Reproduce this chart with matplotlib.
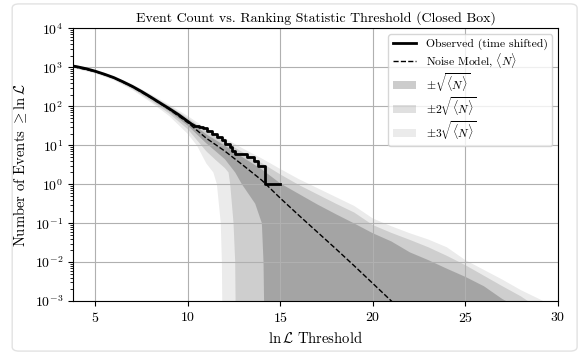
import matplotlib
matplotlib.use("Agg")
import matplotlib.pyplot as plt
from matplotlib.patches import FancyBboxPatch
import numpy as np

plt.rcParams['font.family'] = ['cmr10', 'DejaVu Serif']
plt.rcParams['mathtext.fontset'] = 'cm'
plt.rcParams['axes.formatter.use_mathtext'] = True

# noise model <N>, log10 values
noise_x = [3.8, 5, 6, 7, 8, 9, 10, 11, 12, 13, 14, 15, 16, 17, 18, 19, 20, 21, 21.5]
noise_log = [3.02, 2.89, 2.73, 2.50, 2.22, 1.92, 1.58, 1.18, 0.85, 0.48, 0.10,
             -0.36, -0.80, -1.23, -1.66, -2.10, -2.55, -3.00, -3.22]

# observed (time shifted): smooth high-count part, then stepped tail
obs_hi_x = [3.8, 4.0, 4.5, 5.0, 5.5, 6.0, 6.5, 7.0, 7.5, 8.0, 8.5, 9.0, 9.5, 10.0, 10.2, 10.4]
obs_hi_n = [1080, 1040, 925, 795, 665, 545, 425, 325, 240, 172, 122, 87, 61, 41, 35, 31]
obs_lo_x = [10.4, 10.6, 10.84, 11.03, 11.3, 11.57, 11.84, 12.02, 12.29,
            12.38, 12.56, 13.2, 13.55, 13.78, 14.15, 15.0]
obs_lo_n = [31, 29, 27, 23, 19, 16, 14, 11, 9, 7, 6, 5, 4, 3, 1, 1]

# upper edges of the bands (log10)
band_x = [3.8, 5, 6, 7, 8, 9, 10, 11, 12, 13, 14, 15, 16, 17, 18, 19, 20, 21,
          22, 23, 24, 25, 26, 27, 28, 29, 30]
up1_log = [3.033, 2.905, 2.748, 2.524, 2.253, 1.965, 1.645, 1.28, 0.99, 0.68, 0.38,
           0.02, -0.25, -0.52, -0.77, -1.01, -1.26, -1.47, -1.75, -1.95, -2.17,
           -2.38, -2.62, -2.95, -3.2, -3.4, -3.6]
up2_log = [3.046, 2.92, 2.766, 2.546, 2.283, 2.005, 1.70, 1.36, 1.09, 0.81, 0.54,
           0.25, -0.02, -0.26, -0.50, -0.73, -1.05, -1.25, -1.43, -1.62, -1.84,
           -2.08, -2.35, -2.62, -2.88, -3.2, -3.4]
up3_log = [3.058, 2.934, 2.783, 2.567, 2.31, 2.04, 1.75, 1.43, 1.18, 0.91, 0.66,
           0.39, 0.13, -0.10, -0.33, -0.56, -0.88, -1.08, -1.26, -1.42, -1.62,
           -1.95, -2.2, -2.45, -2.72, -2.95, -3.2]

# lower edges of the bands (counts, drop to zero)
low1_x = [3.8, 5, 6, 7, 8, 9, 10, 11, 12, 12.56, 12.92, 13.64, 14.0, 14.09, 14.12, 14.15]
low1_n = [1015, 748, 514, 298, 153, 74, 31.8, 11.2, 4.4, 2.0, 1.0, 0.316, 0.1, 0.01, 1e-3, 1e-5]
low2_x = [3.8, 5, 6, 7, 8, 9, 10, 11, 11.5, 12.0, 12.2, 12.29, 12.47, 12.56, 12.58, 12.6]
low2_n = [983, 720, 491, 280, 140, 65, 25.7, 7.0, 4.2, 2.6, 2.0, 1.0, 0.1, 0.01, 1e-3, 1e-5]
low3_x = [3.8, 5, 6, 7, 8, 9, 10, 10.5, 11, 11.38, 11.57, 11.78, 11.84, 11.86, 11.88]
low3_n = [950, 692, 467, 263, 127, 56, 19.5, 9.7, 3.4, 2.0, 1.0, 0.1, 0.01, 1e-3, 1e-5]

fig = plt.figure(figsize=(5.8, 3.55), dpi=100, facecolor='w')
fig.patches.append(FancyBboxPatch((0.021, 0.011), 0.974, 0.978,
                                  boxstyle='round,pad=0,rounding_size=0.012',
                                  transform=fig.transFigure, facecolor='none',
                                  edgecolor='#e2e2e2', linewidth=1.0))
ax = fig.add_axes([0.126, 0.152, 0.836, 0.768])


def band(up_log, low_x, low_n, alpha, label):
    xs = list(band_x) + list(low_x[::-1])
    ys = list(10 ** np.array(up_log)) + list(low_n[::-1])
    ax.fill(xs, ys, color='k', alpha=alpha, linewidth=0, label=label)


band(up3_log, low3_x, low3_n, 0.08, r'$\pm3\sqrt{\langle N\rangle}$')
band(up2_log, low2_x, low2_n, 0.12, r'$\pm2\sqrt{\langle N\rangle}$')
band(up1_log, low1_x, low1_n, 0.20, r'$\pm\sqrt{\langle N\rangle}$')

ax.plot(noise_x, 10 ** np.array(noise_log), '--', color='k', lw=1.0,
        label=r'Noise Model, $\langle N\rangle$')
ax.plot(obs_hi_x, obs_hi_n, '-', color='k', lw=2.0, solid_capstyle='butt')
ax.plot(obs_lo_x, obs_lo_n, '-', color='k', lw=2.0, drawstyle='steps-post',
        label='Observed (time shifted)')

ax.set_yscale('log')
ax.set_xlim(3.8, 30)
ax.set_ylim(1e-3, 1e4)
ax.set_xticks([5, 10, 15, 20, 25, 30])
ax.grid(True, which='major')
ax.tick_params(labelsize=10)

ax.set_title('Event Count vs. Ranking Statistic Threshold (Closed Box)', fontsize=10, pad=5)
ax.set_xlabel(r'$\ln\mathcal{L}$ Threshold', fontsize=10.5)
ax.set_ylabel(r'Number of Events $\geq \ln\mathcal{L}$', fontsize=10.5)

handles, labels = ax.get_legend_handles_labels()
order = [4, 3, 2, 1, 0]
ax.legend([handles[i] for i in order], [labels[i] for i in order],
          loc='upper right', fontsize=8.4, labelspacing=0.1)

fig.savefig('out.png', dpi=100)
